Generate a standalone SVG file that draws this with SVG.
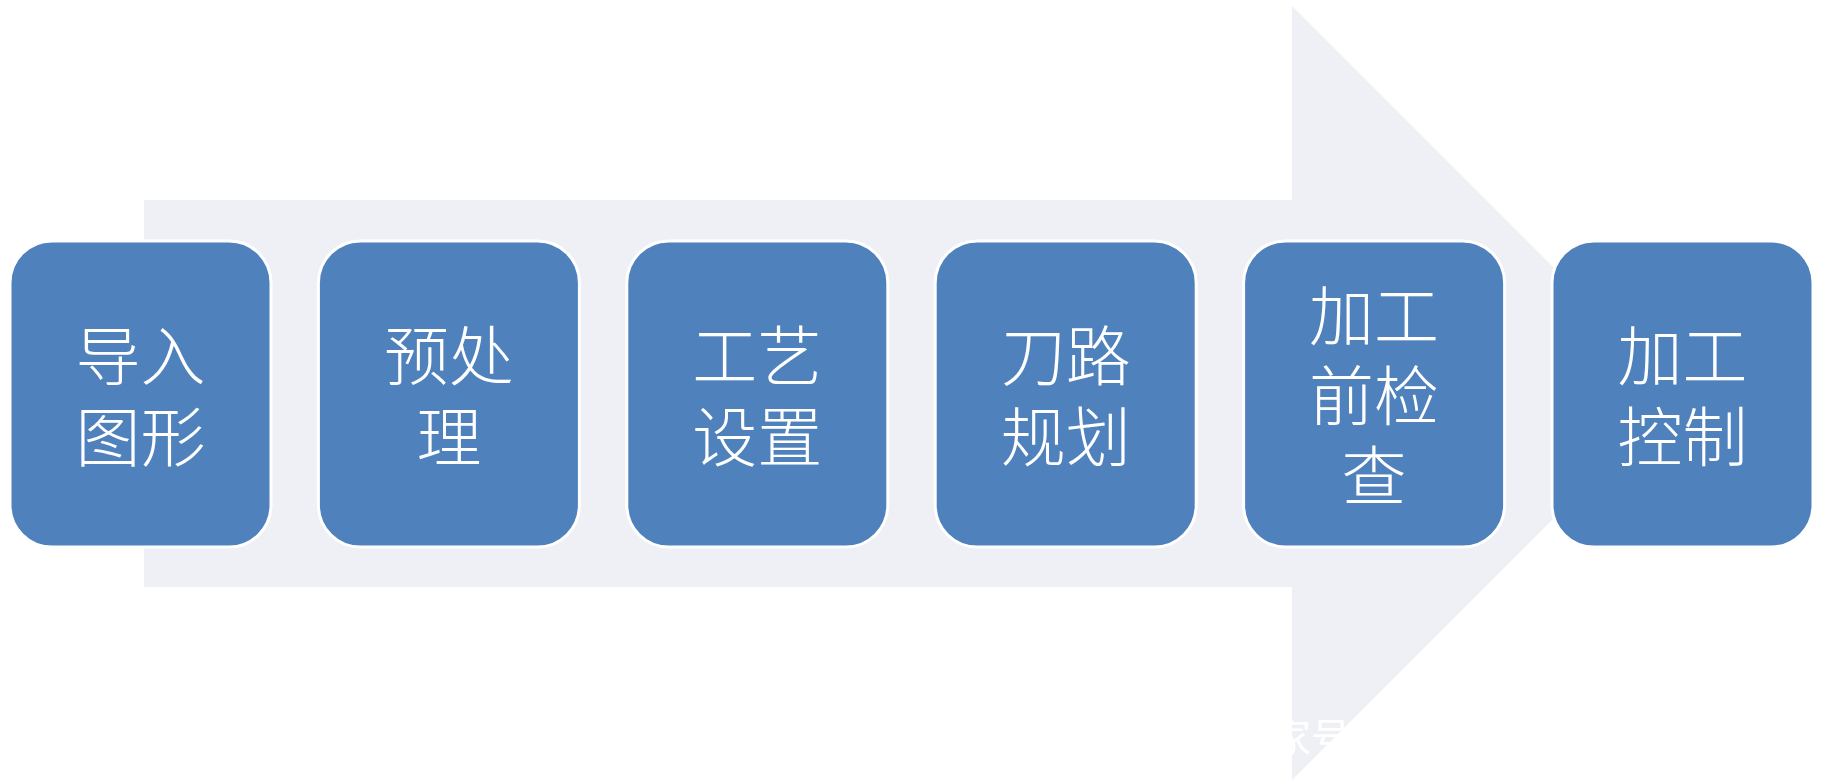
<svg xmlns="http://www.w3.org/2000/svg" width="1822" height="784" viewBox="0 0 1822 784">
<style>
.bg{fill:#ffffff}
.arrow{fill:#eef0f5}
.box{fill:#4f81bd;stroke:#ffffff;stroke-width:3}
.lbl{fill:#ffffff;font-family:"Noto Sans CJK SC","Noto Sans",sans-serif;font-size:65px;font-weight:300;text-anchor:middle;dominant-baseline:central}
.wm{fill:#ffffff;font-family:"Noto Sans CJK SC","Noto Sans",sans-serif;font-size:40px}
</style>
<rect class="bg" x="0" y="0" width="1822" height="784"/>
<g id="connectors">
<polygon class="arrow" points="144,200 1292,200 1292,6 1679,393 1292,780 1292,587 144,587"/>
</g>
<g id="n1"><rect class="box" x="10" y="241" width="261" height="306" rx="42"/><text class="lbl" x="140.5" y="352">导入</text><text class="lbl" x="140.5" y="433">图形</text></g>
<g id="n2"><rect class="box" x="318.4" y="241" width="261" height="306" rx="42"/><text class="lbl" x="448.9" y="352">预处</text><text class="lbl" x="448.9" y="433">理</text></g>
<g id="n3"><rect class="box" x="626.8" y="241" width="261" height="306" rx="42"/><text class="lbl" x="757.3" y="352">工艺</text><text class="lbl" x="757.3" y="433">设置</text></g>
<g id="n4"><rect class="box" x="935.2" y="241" width="261" height="306" rx="42"/><text class="lbl" x="1065.7" y="352">刀路</text><text class="lbl" x="1065.7" y="433">规划</text></g>
<g id="n5"><rect class="box" x="1243.6" y="241" width="261" height="306" rx="42"/><text class="lbl" x="1374.1" y="312">加工</text><text class="lbl" x="1374.1" y="392">前检</text><text class="lbl" x="1374.1" y="472">查</text></g>
<g id="n6"><rect class="box" x="1552" y="241" width="261" height="306" rx="42"/><text class="lbl" x="1682.5" y="352">加工</text><text class="lbl" x="1682.5" y="433">控制</text></g>
<text class="wm" x="1271" y="752">家号</text>
</svg>
